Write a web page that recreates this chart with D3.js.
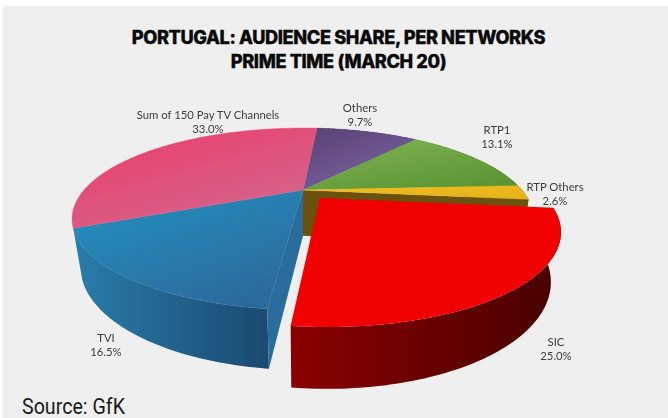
<!DOCTYPE html>
<html>
<head>
<meta charset="utf-8">
<script src="https://cdn.jsdelivr.net/npm/d3@7"></script>
<style>
  html, body { margin: 0; padding: 0; background: #fff; }
  svg { display: block; }
</style>
</head>
<body>
<div id="chart"></div>
<script>
// values, clockwise from the back of the pie
var categories = ["Others", "RTP1", "RTP Others", "SIC", "TVI", "Sum of 150 Pay TV Channels"];
var shares = [9.7, 13.1, 2.6, 25.0, 16.5, 33.0];
var shareLabels = ["9.7%", "13.1%", "2.6%", "25.0%", "16.5%", "33.0%"];
var explodedCategory = "SIC";

var titleLines = ["PORTUGAL: AUDIENCE SHARE, PER NETWORKS", "PRIME TIME (MARCH 20)"];
var sourceText = "Source: GfK";

var width = 668, height = 418;

// perspective of the disc, fitted to the picture
var cx = 303, cy = 190,
  R = 219, tilt = 81.7, k = 0.318,
  depth = 47.3, shrink = 0.035,
  explode = 0.12,
  startDeg = 4.8;

var topColors = {
  "Others": ["#574272", "#7d62a3"],
  "RTP1": ["#82b457", "#5c9633"],
  "RTP Others": ["#eebd22", "#e6b31c"],
  "SIC": ["#f00000", "#f00000"],
  "TVI": ["#2492c2", "#2c6a9c"],
  "Sum of 150 Pay TV Channels": ["#ee3c66", "#d2668f"]
};
var wallColors = {
  "Others": ["#3d2e50", "#3d2e50"],
  "RTP1": ["#3f6a22", "#3f6a22"],
  "RTP Others": ["#6b5108", "#6b5108"],
  "SIC": ["#8a0000", "#480000"],
  "TVI": ["#2a7dab", "#1a4a70"]
};

// label centre x and first baseline, px
var labelPos = {
  "Others": [360, 112],
  "RTP1": [497, 134],
  "RTP Others": [555, 191],
  "SIC": [556, 346],
  "TVI": [106, 342],
  "Sum of 150 Pay TV Channels": [208, 119]
};

function project(a, r, z, off) {
  var x = r * Math.sin(a) + off[0],
    y = -r * Math.cos(a) + off[1],
    w = 1 - k * y + shrink * z;
  return [cx + (R * x) / w, cy + (tilt * y + depth * z) / w];
}

function rim(d, z, off) {
  var n = 80;
  return d3.range(n + 1).map(function (i) {
    return project(d.startAngle + ((d.endAngle - d.startAngle) * i) / n, 1, z, off);
  });
}

var line = d3.line();

function topPath(d, off) {
  return line([project(0, 0, 0, off)].concat(rim(d, 0, off))) + "Z";
}

function wallPath(d, off) {
  return line(rim(d, 0, off).concat(rim(d, 1, off).reverse())) + "Z";
}

// flat face along one cut edge of a slice
function cutPath(a, off) {
  return line([
    project(a, 0, 0, off),
    project(a, 1, 0, off),
    project(a, 1, 1, off),
    project(a, 0, 1, off)
  ]) + "Z";
}

var svg = d3.select("#chart").append("svg")
  .attr("width", width)
  .attr("height", height);

var defs = svg.append("defs");

function addGradient(id, stops, x2, y2) {
  var g = defs.append("linearGradient").attr("id", id)
    .attr("x1", 0).attr("y1", 0).attr("x2", x2).attr("y2", y2);
  g.append("stop").attr("offset", "0%").attr("stop-color", stops[0]);
  g.append("stop").attr("offset", "100%").attr("stop-color", stops[1]);
}

categories.forEach(function (c, i) {
  addGradient("top" + i, topColors[c], 0.7, 1);
  if (wallColors[c]) addGradient("wall" + i, wallColors[c], 1, 0);
});

defs.append("filter").attr("id", "soft")
  .attr("x", "-5%").attr("y", "-5%").attr("width", "110%").attr("height", "110%")
  .append("feGaussianBlur").attr("stdDeviation", 0.5);
defs.append("filter").attr("id", "softText")
  .attr("x", "-10%").attr("y", "-20%").attr("width", "120%").attr("height", "140%")
  .append("feGaussianBlur").attr("stdDeviation", 0.45);

svg.append("rect")
  .attr("x", 3).attr("y", 6)
  .attr("width", width - 3).attr("height", height - 6)
  .attr("fill", "#efefef");

var rad = Math.PI / 180;
var slices = d3.pie()
  .sort(null)
  .startAngle(startDeg * rad)
  .endAngle((startDeg + 360) * rad)
  .value(function (d) { return d; })(shares);

var pie = svg.append("g").attr("filter", "url(#soft)");

function offsetOf(d) {
  if (categories[d.index] !== explodedCategory) return [0, 0];
  var mid = (d.startAngle + d.endAngle) / 2;
  return [explode * Math.sin(mid), -explode * Math.cos(mid)];
}

var restSlices = slices.filter(function (d) { return categories[d.index] !== explodedCategory; });
var outSlices = slices.filter(function (d) { return categories[d.index] === explodedCategory; });
var out = outSlices[0];

// rest of the pie, the pink one shows no side in the reference
pie.selectAll(".wall")
  .data(restSlices.filter(function (d) { return wallColors[categories[d.index]]; }))
  .enter().append("path")
  .attr("class", "wall")
  .attr("d", function (d) { return wallPath(d, [0, 0]); })
  .attr("fill", function (d) { return "url(#wall" + d.index + ")"; });

// faces left open by the pulled out slice
pie.append("path")
  .attr("d", cutPath(out.startAngle, [0, 0]))
  .attr("fill", "#6b5108");
pie.append("path")
  .attr("d", cutPath(out.endAngle, [0, 0]))
  .attr("fill", "#2a6c9c");

pie.selectAll(".top").data(restSlices).enter().append("path")
  .attr("class", "top")
  .attr("d", function (d) { return topPath(d, [0, 0]); })
  .attr("fill", function (d) { return "url(#top" + d.index + ")"; })
  .attr("stroke", function (d) { return "url(#top" + d.index + ")"; })
  .attr("stroke-width", 0.4);

// pulled out slice goes last
pie.selectAll(".wallOut").data(outSlices).enter().append("path")
  .attr("class", "wallOut")
  .attr("d", function (d) { return wallPath(d, offsetOf(d)); })
  .attr("fill", function (d) { return "url(#wall" + d.index + ")"; });
pie.selectAll(".topOut").data(outSlices).enter().append("path")
  .attr("class", "topOut")
  .attr("d", function (d) { return topPath(d, offsetOf(d)); })
  .attr("fill", function (d) { return "url(#top" + d.index + ")"; });

// labels
var labels = svg.append("g")
  .attr("filter", "url(#softText)")
  .attr("font-family", "Lato, sans-serif")
  .attr("font-size", 11.3)
  .attr("fill", "#3c3c3c")
  .attr("text-anchor", "middle");

categories.forEach(function (c, i) {
  var p = labelPos[c];
  labels.append("text").attr("x", p[0]).attr("y", p[1]).text(c);
  labels.append("text").attr("x", p[0]).attr("y", p[1] + 14).text(shareLabels[i]);
});

// title and source
svg.selectAll(".title").data(titleLines).enter().append("text")
  .attr("class", "title")
  .attr("x", 338.5)
  .attr("y", function (d, i) { return 44 + i * 24; })
  .attr("text-anchor", "middle")
  .attr("font-family", "Inter, sans-serif")
  .attr("font-weight", 800)
  .attr("font-size", 18.2)
  .attr("letter-spacing", -0.4)
  .attr("fill", "#0a0a0a")
  .attr("stroke", "#0a0a0a")
  .attr("stroke-width", 0.35)
  .text(function (d) { return d; });

// no narrow font installed, so squeeze Roboto to the reference width
svg.append("text")
  .attr("x", 22)
  .attr("y", 414)
  .attr("font-family", "Roboto, sans-serif")
  .attr("font-size", 22)
  .attr("textLength", 103)
  .attr("lengthAdjust", "spacingAndGlyphs")
  .attr("fill", "#1a1a1a")
  .text(sourceText);
</script>
</body>
</html>
